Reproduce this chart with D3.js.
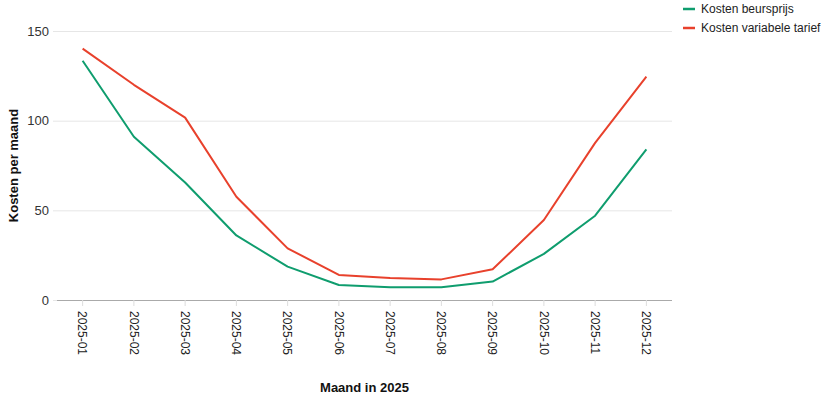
<!DOCTYPE html>
<html><head><meta charset="utf-8">
<script src="https://cdn.jsdelivr.net/npm/d3@7"></script>
<style>body{margin:0;background:#fff;font-family:"Liberation Sans",Arial,Helvetica,sans-serif;}</style>
</head><body><svg id="c" width="831" height="400"></svg>
<script>
const months = ["2025-01","2025-02","2025-03","2025-04","2025-05","2025-06","2025-07","2025-08","2025-09","2025-10","2025-11","2025-12"];
const beursprijs = [133.4, 91, 65.5, 36, 18.6, 8.4, 7.1, 7.1, 10.3, 25.7, 47, 84];
const variabel = [140.2, 120, 101.7, 57.6, 28.8, 14, 12.2, 11.5, 17.1, 44.6, 87.6, 124.5];
const yTicks = [0, 50, 100, 150];
const seriesNames = ["Kosten beursprijs", "Kosten variabele tarief"];
const colors = ["#0f9d6e", "#e8412c"];

const svg = d3.select("#c");
const m = {left: 57, right: 672, top: 31, bottom: 300};
const x = d3.scaleBand().domain(months).range([m.left, m.right]);
const y = d3.scaleLinear().domain([0, 150]).range([m.bottom, m.top]);

// grid
const gy = svg.append("g").attr("transform", `translate(${m.left},0)`)
  .call(d3.axisLeft(y).tickValues(yTicks).tickSize(-(m.right - m.left)).tickPadding(8));
gy.select(".domain").remove();
gy.selectAll(".tick line").attr("stroke", "#e6e6e6").attr("x1", -4);
gy.selectAll(".tick text").attr("fill", "#333").style("font-size", "13px").style("font-family", "Liberation Sans, Arial, sans-serif");

// x axis
const gx = svg.append("g").attr("transform", `translate(0,${m.bottom})`)
  .call(d3.axisBottom(x).tickSize(6).tickPadding(6));
gx.select(".domain").attr("stroke", "#aaa").attr("d", `M${m.left},0.5H${m.right}`);
gx.selectAll(".tick line").attr("stroke", "#ddd");
gx.selectAll(".tick text")
  .attr("fill", "#222")
  .style("font-size", "12px").style("font-family", "Liberation Sans, Arial, sans-serif")
  .attr("text-anchor", "start")
  .attr("transform", "rotate(90)")
  .attr("x", 11).attr("y", 0).attr("dy", "0.35em");

// lines
const line = d3.line().x((d, i) => x(months[i]) + x.bandwidth() / 2).y(d => y(d));
[beursprijs, variabel].forEach((s, k) => {
  svg.append("path").datum(s).attr("d", line).attr("fill", "none")
    .attr("stroke", colors[k]).attr("stroke-width", 2).attr("stroke-linejoin", "round");
});

// axis titles
svg.append("text").attr("transform", `translate(18,${(m.top + m.bottom) / 2}) rotate(-90)`)
  .attr("text-anchor", "middle").attr("fill", "#111").style("font-size", "13px").style("font-weight", "bold")
  .text("Kosten per maand");
svg.append("text").attr("x", (m.left + m.right) / 2).attr("y", 392)
  .attr("text-anchor", "middle").attr("fill", "#111").style("font-size", "13px").style("font-weight", "bold")
  .text("Maand in 2025");

// legend
const lg = svg.append("g");
seriesNames.forEach((n, k) => {
  const yy = 9 + k * 19;
  lg.append("line").attr("x1", 683).attr("x2", 695).attr("y1", yy).attr("y2", yy)
    .attr("stroke", colors[k]).attr("stroke-width", 2.5);
  lg.append("text").attr("x", 701).attr("y", yy).attr("dy", "0.35em")
    .attr("fill", "#222").style("font-size", "12px").text(n);
});
</script></body></html>
